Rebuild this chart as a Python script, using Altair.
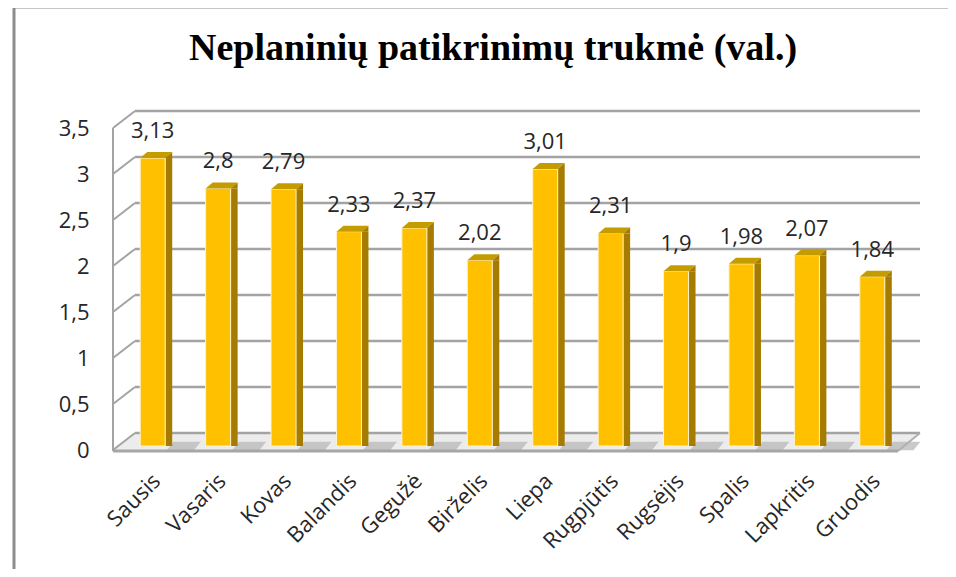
import altair as alt
import pandas as pd

months = ["Sausis", "Vasaris", "Kovas", "Balandis", "Gegužė", "Birželis",
          "Liepa", "Rugpjūtis", "Rugsėjis", "Spalis", "Lapkritis", "Gruodis"]
values = [3.13, 2.8, 2.79, 2.33, 2.37, 2.02, 3.01, 2.31, 1.9, 1.98, 2.07, 1.84]
value_labels = ["3,13", "2,8", "2,79", "2,33", "2,37", "2,02", "3,01", "2,31",
                "1,9", "1,98", "2,07", "1,84"]
y_ticks = [0, 0.5, 1, 1.5, 2, 2.5, 3, 3.5]
title_text = "Neplaninių patikrinimų trukmė (val.)"

df = pd.DataFrame({"month": months, "value": values, "label": value_labels})
ticks = pd.DataFrame({"v": y_ticks})
one = pd.DataFrame({"k": [0]})

W, H = 785, 322
DX, DY = 22, -17
FONT = "Open Sans"
TXT = "#262626"

yscale = alt.Scale(domain=[0, 3.5], nice=False, zero=True)
xscale = alt.Scale(domain=months, paddingInner=0, paddingOuter=0)

label_expr = "replace(toString(datum.value), '.', ',')"

x_axis = alt.Axis(labelAngle=-45, labelAlign="right", labelBaseline="top",
                  labelPadding=20, labelOffset=4, domain=False, ticks=False,
                  labelFont=FONT, labelFontSize=22, labelColor=TXT, labelLimit=200)
y_axis = alt.Axis(values=y_ticks, labelExpr=label_expr, domain=False, ticks=False,
                  grid=False, labelPadding=24, labelFont=FONT, labelFontSize=22,
                  labelColor=TXT)

X = alt.X("month:N", scale=xscale, sort=months, title=None, axis=x_axis)
Y = alt.Y("value:Q", scale=yscale, title=None, axis=y_axis)
Yt = alt.Y("v:Q", scale=yscale, title=None, axis=y_axis)

grid_col = "#A3A3A3"

# outer frame
frame_v = alt.Chart(one).mark_rule(color="#8C8C8C", strokeWidth=3).encode(
    x=alt.value(-99), y=alt.value(-121), y2=alt.value(460))
frame_h = alt.Chart(one).mark_rule(color="#8C8C8C", strokeWidth=3).encode(
    x=alt.value(-99), x2=alt.value(850), y=alt.value(-121))

# floor
floor_path = "M -1 0.02107 L 0.94548 0.02107 L 1 -0.02107 L -0.94548 -0.02107 Z"
floor = alt.Chart(one).mark_point(
    shape=floor_path, size=807 ** 2, filled=True, fill="#ECECEC", opacity=1,
    strokeWidth=0).encode(x=alt.value((W + DX) / 2), y=alt.value(H + DY / 2))
floor_edge = alt.Chart(one).mark_rule(color="#A6A6A6", strokeWidth=3).encode(
    x=alt.value(0), x2=alt.value(W), y=alt.value(H + 1))
floor_edge_r = alt.Chart(one).mark_rule(color="#B0B0B0", strokeWidth=2).encode(
    x=alt.value(W), x2=alt.value(W + DX), y=alt.value(H + 1), y2=alt.value(H + DY))

# shadows on the floor, to the right of each bar
shadow_path = "M -1 0.25 L 0.6 0.25 L 1 -0.25 L -0.6 -0.25 Z"
shadow = alt.Chart(df).mark_point(shape=shadow_path, size=34 ** 2, filled=True,
                                  fill="#B8B8B8", opacity=0.75, strokeWidth=0,
                                  xOffset=38, yOffset=-4).encode(
    x=X, y=alt.value(H))

# back wall gridlines
grid = alt.Chart(ticks).mark_rule(color=grid_col, strokeWidth=2.5, yOffset=DY).encode(
    y=Yt, x=alt.value(DX), x2=alt.value(W + DX))
# left wall diagonals
diag = alt.Chart(ticks).mark_rule(color=grid_col, strokeWidth=2, y2Offset=DY).encode(
    y=Yt, y2="v:Q", x=alt.value(0), x2=alt.value(DX))
left_axis = alt.Chart(one).mark_rule(color=grid_col, strokeWidth=2).encode(
    x=alt.value(0), y=alt.value(0), y2=alt.value(H + 1))

# bars
side = alt.Chart(df).mark_bar(width=7, xOffset=23, yOffset=-4, y2Offset=-4,
                              color="#A57C00").encode(x=X, y=Y)
front = alt.Chart(df).mark_bar(width=25, xOffset=7, yOffset=-4, y2Offset=-4,
                               color="#FFC000", stroke="#FFF3CC", strokeWidth=1).encode(x=X, y=Y)
top_path = "M -1 0.1875 L 0.5625 0.1875 L 1 -0.1875 L -0.5625 -0.1875 Z"
tri_path = "M 0.5625 0.1875 L 1 -0.1875 L 1 0.1875 Z"
cap_top = alt.Chart(df).mark_point(shape=top_path, size=1024, filled=True, fill="#C49C00",
                                   opacity=1, strokeWidth=0, xOffset=10.5, yOffset=-7).encode(x=X, y=Y)
cap_tri = alt.Chart(df).mark_point(shape=tri_path, size=1024, filled=True, fill="#A57C00",
                                   opacity=1, strokeWidth=0, xOffset=10.5, yOffset=-7).encode(x=X, y=Y)

labels = alt.Chart(df).mark_text(font=FONT, fontSize=22, color=TXT, dx=7, dy=-31,
                                 baseline="middle").encode(x=X, y=Y, text="label:N")

title = alt.Chart(pd.DataFrame({"t": [title_text]})).mark_text(
    font="Liberation Serif", fontSize=38, fontWeight="bold", color="black",
    baseline="middle", align="center").encode(
    x=alt.value(493 - 113), y=alt.value(49 - 128), text="t:N")

chart = alt.layer(frame_v, frame_h, floor, shadow, grid, diag, left_axis, floor_edge,
                  floor_edge_r, side, front, cap_top, cap_tri, labels, title).properties(
    width=W, height=H,
    padding={"left": 105, "top": 120, "right": 50, "bottom": 119},
    autosize=alt.AutoSizeParams(type="none"),
    background="white",
).configure_view(stroke=None)

chart.save("out.html", embed_options={"renderer": "svg", "actions": False})
